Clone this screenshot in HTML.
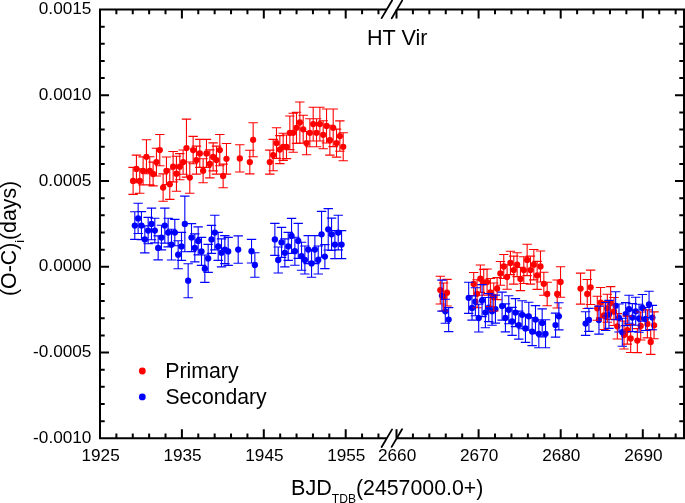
<!DOCTYPE html><html><head><meta charset="utf-8"><style>
html,body{margin:0;padding:0;background:#fff;width:685px;height:503px;overflow:hidden}
svg{display:block;will-change:transform}text{font-family:"Liberation Sans",sans-serif;fill:#000}
</style></head><body>
<svg width="685" height="503" viewBox="0 0 685 503">
<rect width="685" height="503" fill="#fff"/>
<g fill="#ff0000">
<circle cx="133.10" cy="180.90" r="3.15"/>
<circle cx="136.44" cy="168.90" r="3.15"/>
<circle cx="139.77" cy="181.00" r="3.15"/>
<circle cx="143.10" cy="170.90" r="3.15"/>
<circle cx="146.44" cy="156.80" r="3.15"/>
<circle cx="149.78" cy="170.80" r="3.15"/>
<circle cx="153.11" cy="174.00" r="3.15"/>
<circle cx="156.44" cy="162.10" r="3.15"/>
<circle cx="159.78" cy="150.10" r="3.15"/>
<circle cx="163.12" cy="187.60" r="3.15"/>
<circle cx="166.45" cy="170.80" r="3.15"/>
<circle cx="169.78" cy="184.20" r="3.15"/>
<circle cx="173.12" cy="166.70" r="3.15"/>
<circle cx="176.45" cy="173.70" r="3.15"/>
<circle cx="179.79" cy="166.70" r="3.15"/>
<circle cx="183.12" cy="162.10" r="3.15"/>
<circle cx="186.46" cy="148.10" r="3.15"/>
<circle cx="189.79" cy="177.60" r="3.15"/>
<circle cx="193.13" cy="150.10" r="3.15"/>
<circle cx="196.47" cy="160.10" r="3.15"/>
<circle cx="199.80" cy="153.40" r="3.15"/>
<circle cx="203.13" cy="170.80" r="3.15"/>
<circle cx="206.47" cy="153.40" r="3.15"/>
<circle cx="209.81" cy="163.90" r="3.15"/>
<circle cx="213.14" cy="156.90" r="3.15"/>
<circle cx="216.47" cy="160.10" r="3.15"/>
<circle cx="219.81" cy="150.10" r="3.15"/>
<circle cx="223.14" cy="175.90" r="3.15"/>
<circle cx="226.48" cy="158.80" r="3.15"/>
<circle cx="239.82" cy="158.40" r="3.15"/>
<circle cx="249.82" cy="162.10" r="3.15"/>
<circle cx="253.16" cy="139.80" r="3.15"/>
<circle cx="269.83" cy="162.10" r="3.15"/>
<circle cx="273.17" cy="155.10" r="3.15"/>
<circle cx="276.50" cy="143.10" r="3.15"/>
<circle cx="279.84" cy="149.60" r="3.15"/>
<circle cx="283.17" cy="146.80" r="3.15"/>
<circle cx="286.51" cy="146.80" r="3.15"/>
<circle cx="289.85" cy="132.80" r="3.15"/>
<circle cx="293.18" cy="132.80" r="3.15"/>
<circle cx="296.51" cy="127.80" r="3.15"/>
<circle cx="299.85" cy="122.50" r="3.15"/>
<circle cx="303.19" cy="129.30" r="3.15"/>
<circle cx="306.52" cy="143.10" r="3.15"/>
<circle cx="309.86" cy="132.80" r="3.15"/>
<circle cx="313.19" cy="124.10" r="3.15"/>
<circle cx="316.52" cy="132.80" r="3.15"/>
<circle cx="319.86" cy="124.10" r="3.15"/>
<circle cx="323.19" cy="134.80" r="3.15"/>
<circle cx="326.53" cy="126.00" r="3.15"/>
<circle cx="329.87" cy="140.20" r="3.15"/>
<circle cx="333.20" cy="127.80" r="3.15"/>
<circle cx="336.53" cy="143.10" r="3.15"/>
<circle cx="339.87" cy="136.10" r="3.15"/>
<circle cx="343.20" cy="146.80" r="3.15"/>
<circle cx="440.30" cy="290.10" r="3.15"/>
<circle cx="443.64" cy="297.00" r="3.15"/>
<circle cx="446.98" cy="292.70" r="3.15"/>
<circle cx="473.70" cy="284.00" r="3.15"/>
<circle cx="477.04" cy="293.80" r="3.15"/>
<circle cx="480.38" cy="278.70" r="3.15"/>
<circle cx="483.72" cy="282.30" r="3.15"/>
<circle cx="487.06" cy="282.10" r="3.15"/>
<circle cx="490.40" cy="292.50" r="3.15"/>
<circle cx="493.74" cy="297.00" r="3.15"/>
<circle cx="497.08" cy="288.60" r="3.15"/>
<circle cx="500.42" cy="273.40" r="3.15"/>
<circle cx="503.76" cy="266.50" r="3.15"/>
<circle cx="507.10" cy="277.00" r="3.15"/>
<circle cx="510.44" cy="262.90" r="3.15"/>
<circle cx="513.78" cy="270.10" r="3.15"/>
<circle cx="517.12" cy="264.70" r="3.15"/>
<circle cx="520.46" cy="279.00" r="3.15"/>
<circle cx="523.80" cy="270.10" r="3.15"/>
<circle cx="527.14" cy="259.90" r="3.15"/>
<circle cx="530.48" cy="270.10" r="3.15"/>
<circle cx="533.82" cy="264.70" r="3.15"/>
<circle cx="537.16" cy="275.40" r="3.15"/>
<circle cx="540.50" cy="266.50" r="3.15"/>
<circle cx="543.84" cy="283.80" r="3.15"/>
<circle cx="547.18" cy="294.00" r="3.15"/>
<circle cx="557.20" cy="294.00" r="3.15"/>
<circle cx="560.54" cy="282.00" r="3.15"/>
<circle cx="580.58" cy="288.60" r="3.15"/>
<circle cx="587.26" cy="294.00" r="3.15"/>
<circle cx="590.60" cy="287.30" r="3.15"/>
<circle cx="597.28" cy="308.30" r="3.15"/>
<circle cx="600.62" cy="302.60" r="3.15"/>
<circle cx="603.96" cy="315.50" r="3.15"/>
<circle cx="607.30" cy="308.30" r="3.15"/>
<circle cx="610.64" cy="303.00" r="3.15"/>
<circle cx="613.98" cy="311.50" r="3.15"/>
<circle cx="617.32" cy="326.30" r="3.15"/>
<circle cx="624.00" cy="335.00" r="3.15"/>
<circle cx="627.34" cy="330.10" r="3.15"/>
<circle cx="630.68" cy="338.50" r="3.15"/>
<circle cx="637.36" cy="340.60" r="3.15"/>
<circle cx="640.70" cy="326.00" r="3.15"/>
<circle cx="647.38" cy="323.90" r="3.15"/>
<circle cx="650.72" cy="342.00" r="3.15"/>
<circle cx="654.06" cy="325.30" r="3.15"/>
</g>
<g fill="#0000ff">
<circle cx="134.80" cy="225.60" r="3.15"/>
<circle cx="138.14" cy="218.40" r="3.15"/>
<circle cx="141.47" cy="225.60" r="3.15"/>
<circle cx="144.81" cy="239.40" r="3.15"/>
<circle cx="148.14" cy="230.60" r="3.15"/>
<circle cx="151.48" cy="223.90" r="3.15"/>
<circle cx="154.81" cy="230.60" r="3.15"/>
<circle cx="158.15" cy="247.90" r="3.15"/>
<circle cx="161.48" cy="237.60" r="3.15"/>
<circle cx="164.81" cy="225.60" r="3.15"/>
<circle cx="168.15" cy="232.60" r="3.15"/>
<circle cx="171.49" cy="244.60" r="3.15"/>
<circle cx="174.82" cy="232.60" r="3.15"/>
<circle cx="178.16" cy="254.70" r="3.15"/>
<circle cx="181.49" cy="246.40" r="3.15"/>
<circle cx="184.83" cy="223.90" r="3.15"/>
<circle cx="188.16" cy="280.70" r="3.15"/>
<circle cx="191.50" cy="237.60" r="3.15"/>
<circle cx="194.83" cy="247.90" r="3.15"/>
<circle cx="198.17" cy="240.90" r="3.15"/>
<circle cx="201.50" cy="251.40" r="3.15"/>
<circle cx="204.84" cy="268.70" r="3.15"/>
<circle cx="208.17" cy="258.40" r="3.15"/>
<circle cx="211.50" cy="239.40" r="3.15"/>
<circle cx="214.84" cy="232.60" r="3.15"/>
<circle cx="218.18" cy="246.40" r="3.15"/>
<circle cx="221.51" cy="252.90" r="3.15"/>
<circle cx="224.85" cy="249.60" r="3.15"/>
<circle cx="228.18" cy="251.40" r="3.15"/>
<circle cx="238.19" cy="249.60" r="3.15"/>
<circle cx="251.53" cy="251.20" r="3.15"/>
<circle cx="254.86" cy="265.00" r="3.15"/>
<circle cx="274.87" cy="239.40" r="3.15"/>
<circle cx="278.21" cy="260.00" r="3.15"/>
<circle cx="281.54" cy="242.40" r="3.15"/>
<circle cx="284.88" cy="252.90" r="3.15"/>
<circle cx="288.21" cy="246.40" r="3.15"/>
<circle cx="291.55" cy="235.90" r="3.15"/>
<circle cx="294.88" cy="251.20" r="3.15"/>
<circle cx="298.22" cy="240.90" r="3.15"/>
<circle cx="301.55" cy="256.20" r="3.15"/>
<circle cx="304.88" cy="260.00" r="3.15"/>
<circle cx="308.22" cy="249.60" r="3.15"/>
<circle cx="311.56" cy="263.40" r="3.15"/>
<circle cx="314.89" cy="249.60" r="3.15"/>
<circle cx="318.23" cy="260.00" r="3.15"/>
<circle cx="321.56" cy="234.30" r="3.15"/>
<circle cx="324.89" cy="256.60" r="3.15"/>
<circle cx="328.23" cy="229.30" r="3.15"/>
<circle cx="331.56" cy="234.30" r="3.15"/>
<circle cx="334.90" cy="244.60" r="3.15"/>
<circle cx="338.24" cy="232.60" r="3.15"/>
<circle cx="341.57" cy="244.60" r="3.15"/>
<circle cx="441.97" cy="295.60" r="3.15"/>
<circle cx="445.31" cy="311.30" r="3.15"/>
<circle cx="448.65" cy="319.60" r="3.15"/>
<circle cx="468.69" cy="297.80" r="3.15"/>
<circle cx="472.03" cy="308.00" r="3.15"/>
<circle cx="475.37" cy="301.70" r="3.15"/>
<circle cx="478.71" cy="318.10" r="3.15"/>
<circle cx="482.05" cy="300.60" r="3.15"/>
<circle cx="485.39" cy="312.60" r="3.15"/>
<circle cx="488.73" cy="307.60" r="3.15"/>
<circle cx="492.07" cy="311.30" r="3.15"/>
<circle cx="495.41" cy="309.10" r="3.15"/>
<circle cx="502.09" cy="306.10" r="3.15"/>
<circle cx="505.43" cy="317.90" r="3.15"/>
<circle cx="508.77" cy="309.80" r="3.15"/>
<circle cx="512.11" cy="321.40" r="3.15"/>
<circle cx="515.45" cy="312.60" r="3.15"/>
<circle cx="518.79" cy="325.10" r="3.15"/>
<circle cx="522.13" cy="314.80" r="3.15"/>
<circle cx="525.47" cy="328.40" r="3.15"/>
<circle cx="528.81" cy="316.30" r="3.15"/>
<circle cx="532.15" cy="331.60" r="3.15"/>
<circle cx="535.49" cy="319.60" r="3.15"/>
<circle cx="538.83" cy="333.80" r="3.15"/>
<circle cx="542.17" cy="322.90" r="3.15"/>
<circle cx="545.51" cy="333.80" r="3.15"/>
<circle cx="555.53" cy="325.10" r="3.15"/>
<circle cx="558.87" cy="316.30" r="3.15"/>
<circle cx="585.59" cy="323.60" r="3.15"/>
<circle cx="588.93" cy="319.90" r="3.15"/>
<circle cx="598.95" cy="320.10" r="3.15"/>
<circle cx="605.63" cy="316.50" r="3.15"/>
<circle cx="608.97" cy="314.40" r="3.15"/>
<circle cx="615.65" cy="305.80" r="3.15"/>
<circle cx="618.99" cy="318.00" r="3.15"/>
<circle cx="622.33" cy="332.20" r="3.15"/>
<circle cx="625.67" cy="314.10" r="3.15"/>
<circle cx="629.01" cy="309.20" r="3.15"/>
<circle cx="632.35" cy="317.60" r="3.15"/>
<circle cx="635.69" cy="311.30" r="3.15"/>
<circle cx="639.03" cy="318.30" r="3.15"/>
<circle cx="642.37" cy="307.90" r="3.15"/>
<circle cx="645.71" cy="319.00" r="3.15"/>
<circle cx="649.05" cy="304.40" r="3.15"/>
<circle cx="652.39" cy="317.60" r="3.15"/>
</g>
<g stroke="#ff0000" stroke-width="1.1" fill="none">
<path d="M133.10 167.40V194.40M128.40 167.40H137.80M128.40 194.40H137.80M136.44 155.10V182.70M131.74 155.10H141.13M131.74 182.70H141.13M139.77 168.70V193.30M135.07 168.70H144.47M135.07 193.30H144.47M143.10 156.90V184.90M138.41 156.90H147.80M138.41 184.90H147.80M146.44 139.80V173.80M141.74 139.80H151.14M141.74 173.80H151.14M149.78 156.80V184.80M145.08 156.80H154.47M145.08 184.80H154.47M153.11 162.10V185.90M148.41 162.10H157.81M148.41 185.90H157.81M156.44 148.20V176.00M151.75 148.20H161.14M151.75 176.00H161.14M159.78 134.50V165.70M155.08 134.50H164.48M155.08 165.70H164.48M163.12 173.90V201.30M158.42 173.90H167.81M158.42 201.30H167.81M166.45 157.00V184.60M161.75 157.00H171.15M161.75 184.60H171.15M169.78 169.00V199.40M165.09 169.00H174.48M165.09 199.40H174.48M173.12 151.50V181.90M168.42 151.50H177.82M168.42 181.90H177.82M176.45 156.20V191.20M171.75 156.20H181.15M171.75 191.20H181.15M179.79 153.60V179.80M175.09 153.60H184.49M175.09 179.80H184.49M183.12 150.00V174.20M178.43 150.00H187.82M178.43 174.20H187.82M186.46 119.10V177.10M181.76 119.10H191.16M181.76 177.10H191.16M189.79 162.00V193.20M185.09 162.00H194.49M185.09 193.20H194.49M193.13 136.40V163.80M188.43 136.40H197.83M188.43 163.80H197.83M196.47 146.10V174.10M191.77 146.10H201.16M191.77 174.10H201.16M199.80 139.40V167.40M195.10 139.40H204.50M195.10 167.40H204.50M203.13 158.80V182.80M198.44 158.80H207.83M198.44 182.80H207.83M206.47 139.40V167.40M201.77 139.40H211.17M201.77 167.40H211.17M209.81 149.90V177.90M205.11 149.90H214.50M205.11 177.90H214.50M213.14 142.90V170.90M208.44 142.90H217.84M208.44 170.90H217.84M216.47 146.10V174.10M211.78 146.10H221.17M211.78 174.10H221.17M219.81 134.50V165.70M215.11 134.50H224.51M215.11 165.70H224.51M223.14 164.10V187.70M218.44 164.10H227.84M218.44 187.70H227.84M226.48 143.50V174.10M221.78 143.50H231.18M221.78 174.10H231.18M239.82 144.80V172.00M235.12 144.80H244.52M235.12 172.00H244.52M249.82 150.30V173.90M245.12 150.30H254.52M245.12 173.90H254.52M253.16 122.80V156.80M248.46 122.80H257.86M248.46 156.80H257.86M269.83 150.10V174.10M265.13 150.10H274.53M265.13 174.10H274.53M273.17 139.40V170.80M268.47 139.40H277.87M268.47 170.80H277.87M276.50 127.80V158.40M271.81 127.80H281.20M271.81 158.40H281.20M279.84 135.60V163.60M275.14 135.60H284.54M275.14 163.60H284.54M283.17 133.20V160.40M278.47 133.20H287.87M278.47 160.40H287.87M286.51 135.00V158.60M281.81 135.00H291.21M281.81 158.60H291.21M289.85 116.00V149.60M285.15 116.00H294.55M285.15 149.60H294.55M293.18 113.30V152.30M288.48 113.30H297.88M288.48 152.30H297.88M296.51 112.20V143.40M291.81 112.20H301.21M291.81 143.40H301.21M299.85 102.00V143.00M295.15 102.00H304.55M295.15 143.00H304.55M303.19 115.30V143.30M298.49 115.30H307.88M298.49 143.30H307.88M306.52 131.50V154.70M301.82 131.50H311.22M301.82 154.70H311.22M309.86 118.80V146.80M305.16 118.80H314.56M305.16 146.80H314.56M313.19 107.20V141.00M308.49 107.20H317.89M308.49 141.00H317.89M316.52 118.80V146.80M311.82 118.80H321.22M311.82 146.80H321.22M319.86 107.20V141.00M315.16 107.20H324.56M315.16 141.00H324.56M323.19 120.80V148.80M318.50 120.80H327.89M318.50 148.80H327.89M326.53 109.00V143.00M321.83 109.00H331.23M321.83 143.00H331.23M329.87 125.30V155.10M325.17 125.30H334.56M325.17 155.10H334.56M333.20 109.00V146.60M328.50 109.00H337.90M328.50 146.60H337.90M336.53 129.10V157.10M331.83 129.10H341.23M331.83 157.10H341.23M339.87 120.90V151.30M335.17 120.90H344.57M335.17 151.30H344.57M343.20 132.80V160.80M338.50 132.80H347.90M338.50 160.80H347.90M440.30 276.20V304.00M435.60 276.20H445.00M435.60 304.00H445.00M443.64 283.00V311.00M438.94 283.00H448.34M438.94 311.00H448.34M446.98 279.40V306.00M442.28 279.40H451.68M442.28 306.00H451.68M473.70 272.50V295.50M469.00 272.50H478.40M469.00 295.50H478.40M477.04 279.80V307.80M472.34 279.80H481.74M472.34 307.80H481.74M480.38 265.00V292.40M475.68 265.00H485.08M475.68 292.40H485.08M483.72 269.40V295.20M479.02 269.40H488.42M479.02 295.20H488.42M487.06 269.00V295.20M482.36 269.00H491.76M482.36 295.20H491.76M490.40 278.50V306.50M485.70 278.50H495.10M485.70 306.50H495.10M493.74 283.00V311.00M489.04 283.00H498.44M489.04 311.00H498.44M497.08 277.60V299.60M492.38 277.60H501.78M492.38 299.60H501.78M500.42 261.50V285.30M495.72 261.50H505.12M495.72 285.30H505.12M503.76 254.50V278.50M499.06 254.50H508.46M499.06 278.50H508.46M507.10 264.80V289.20M502.40 264.80H511.80M502.40 289.20H511.80M510.44 251.20V274.60M505.74 251.20H515.14M505.74 274.60H515.14M513.78 256.10V284.10M509.08 256.10H518.48M509.08 284.10H518.48M517.12 252.80V276.60M512.42 252.80H521.82M512.42 276.60H521.82M520.46 267.40V290.60M515.76 267.40H525.16M515.76 290.60H525.16M523.80 256.70V283.50M519.10 256.70H528.50M519.10 283.50H528.50M527.14 244.20V275.60M522.44 244.20H531.84M522.44 275.60H531.84M530.48 256.10V284.10M525.78 256.10H535.18M525.78 284.10H535.18M533.82 249.50V279.90M529.12 249.50H538.52M529.12 279.90H538.52M537.16 261.40V289.40M532.46 261.40H541.86M532.46 289.40H541.86M540.50 251.00V282.00M535.80 251.00H545.20M535.80 282.00H545.20M543.84 272.30V295.30M539.14 272.30H548.54M539.14 295.30H548.54M547.18 282.20V305.80M542.48 282.20H551.88M542.48 305.80H551.88M557.20 280.00V308.00M552.50 280.00H561.90M552.50 308.00H561.90M560.54 266.70V297.30M555.84 266.70H565.24M555.84 297.30H565.24M580.58 273.10V304.10M575.88 273.10H585.28M575.88 304.10H585.28M587.26 279.50V308.50M582.56 279.50H591.96M582.56 308.50H591.96M590.60 270.10V304.50M585.90 270.10H595.30M585.90 304.50H595.30M597.28 296.30V320.30M592.58 296.30H601.98M592.58 320.30H601.98M600.62 287.50V317.70M595.92 287.50H605.32M595.92 317.70H605.32M603.96 301.50V329.50M599.26 301.50H608.66M599.26 329.50H608.66M607.30 294.30V322.30M602.60 294.30H612.00M602.60 322.30H612.00M610.64 286.60V319.40M605.94 286.60H615.34M605.94 319.40H615.34M613.98 297.50V325.50M609.28 297.50H618.68M609.28 325.50H618.68M617.32 313.60V339.00M612.62 313.60H622.02M612.62 339.00H622.02M624.00 321.00V349.00M619.30 321.00H628.70M619.30 349.00H628.70M627.34 316.10V344.10M622.64 316.10H632.04M622.64 344.10H632.04M630.68 324.50V352.50M625.98 324.50H635.38M625.98 352.50H635.38M637.36 328.60V352.60M632.66 328.60H642.06M632.66 352.60H642.06M640.70 312.00V340.00M636.00 312.00H645.40M636.00 340.00H645.40M647.38 309.90V337.90M642.68 309.90H652.08M642.68 337.90H652.08M650.72 329.60V354.40M646.02 329.60H655.42M646.02 354.40H655.42M654.06 311.90V338.70M649.36 311.90H658.76M649.36 338.70H658.76"/>
</g>
<g stroke="#0000ff" stroke-width="1.1" fill="none">
<path d="M134.80 211.80V239.40M130.10 211.80H139.50M130.10 239.40H139.50M138.14 203.30V233.50M133.44 203.30H142.84M133.44 233.50H142.84M141.47 211.60V239.60M136.77 211.60H146.17M136.77 239.60H146.17M144.81 225.90V252.90M140.11 225.90H149.50M140.11 252.90H149.50M148.14 217.40V243.80M143.44 217.40H152.84M143.44 243.80H152.84M151.48 208.10V239.70M146.78 208.10H156.18M146.78 239.70H156.18M154.81 218.30V242.90M150.11 218.30H159.51M150.11 242.90H159.51M158.15 235.90V259.90M153.45 235.90H162.84M153.45 259.90H162.84M161.48 225.30V249.90M156.78 225.30H166.18M156.78 249.90H166.18M164.81 208.10V243.10M160.12 208.10H169.51M160.12 243.10H169.51M168.15 218.30V246.90M163.45 218.30H172.85M163.45 246.90H172.85M171.49 229.20V260.00M166.79 229.20H176.19M166.79 260.00H176.19M174.82 219.40V245.80M170.12 219.40H179.52M170.12 245.80H179.52M178.16 240.70V268.70M173.46 240.70H182.85M173.46 268.70H182.85M181.49 232.40V260.40M176.79 232.40H186.19M176.79 260.40H186.19M184.83 196.10V251.70M180.13 196.10H189.53M180.13 251.70H189.53M188.16 263.70V297.70M183.46 263.70H192.86M183.46 297.70H192.86M191.50 223.60V251.60M186.80 223.60H196.19M186.80 251.60H196.19M194.83 233.90V261.90M190.13 233.90H199.53M190.13 261.90H199.53M198.17 226.90V254.90M193.47 226.90H202.87M193.47 254.90H202.87M201.50 237.40V265.40M196.80 237.40H206.20M196.80 265.40H206.20M204.84 255.00V282.40M200.14 255.00H209.53M200.14 282.40H209.53M208.17 244.40V272.40M203.47 244.40H212.87M203.47 272.40H212.87M211.50 225.40V253.40M206.81 225.40H216.20M206.81 253.40H216.20M214.84 215.30V249.90M210.14 215.30H219.54M210.14 249.90H219.54M218.18 232.40V260.40M213.48 232.40H222.88M213.48 260.40H222.88M221.51 238.90V266.90M216.81 238.90H226.21M216.81 266.90H226.21M224.85 235.60V263.60M220.15 235.60H229.55M220.15 263.60H229.55M228.18 237.40V265.40M223.48 237.40H232.88M223.48 265.40H232.88M238.19 235.90V263.30M233.49 235.90H242.88M233.49 263.30H242.88M251.53 239.40V263.00M246.83 239.40H256.23M246.83 263.00H256.23M254.86 252.80V277.20M250.16 252.80H259.56M250.16 277.20H259.56M274.87 223.40V255.40M270.17 223.40H279.57M270.17 255.40H279.57M278.21 247.00V273.00M273.51 247.00H282.91M273.51 273.00H282.91M281.54 227.40V257.40M276.84 227.40H286.24M276.84 257.40H286.24M284.88 238.90V266.90M280.18 238.90H289.57M280.18 266.90H289.57M288.21 232.40V260.40M283.51 232.40H292.91M283.51 260.40H292.91M291.55 218.40V253.40M286.85 218.40H296.25M286.85 253.40H296.25M294.88 237.20V265.20M290.18 237.20H299.58M290.18 265.20H299.58M298.22 223.40V258.40M293.52 223.40H302.92M293.52 258.40H302.92M301.55 242.20V270.20M296.85 242.20H306.25M296.85 270.20H306.25M304.88 246.00V274.00M300.19 246.00H309.58M300.19 274.00H309.58M308.22 235.60V263.60M303.52 235.60H312.92M303.52 263.60H312.92M311.56 249.60V277.20M306.86 249.60H316.25M306.86 277.20H316.25M314.89 235.60V263.60M310.19 235.60H319.59M310.19 263.60H319.59M318.23 246.00V274.00M313.53 246.00H322.93M313.53 274.00H322.93M321.56 211.40V257.20M316.86 211.40H326.26M316.86 257.20H326.26M324.89 244.60V268.60M320.19 244.60H329.59M320.19 268.60H329.59M328.23 208.60V250.00M323.53 208.60H332.93M323.53 250.00H332.93M331.56 218.10V250.50M326.87 218.10H336.26M326.87 250.50H336.26M334.90 230.60V258.60M330.20 230.60H339.60M330.20 258.60H339.60M338.24 215.30V249.90M333.54 215.30H342.94M333.54 249.90H342.94M341.57 230.60V258.60M336.87 230.60H346.27M336.87 258.60H346.27M441.97 280.10V311.10M437.27 280.10H446.67M437.27 311.10H446.67M445.31 299.30V323.30M440.61 299.30H450.01M440.61 323.30H450.01M448.65 307.60V331.60M443.95 307.60H453.35M443.95 331.60H453.35M468.69 282.20V313.40M463.99 282.20H473.39M463.99 313.40H473.39M472.03 295.90V320.10M467.33 295.90H476.73M467.33 320.10H476.73M475.37 287.70V315.70M470.67 287.70H480.07M470.67 315.70H480.07M478.71 304.20V332.00M474.01 304.20H483.41M474.01 332.00H483.41M482.05 284.60V316.60M477.35 284.60H486.75M477.35 316.60H486.75M485.39 297.50V327.70M480.69 297.50H490.09M480.69 327.70H490.09M488.73 293.60V321.60M484.03 293.60H493.43M484.03 321.60H493.43M492.07 297.30V325.30M487.37 297.30H496.77M487.37 325.30H496.77M495.41 295.10V323.10M490.71 295.10H500.11M490.71 323.10H500.11M502.09 292.10V320.10M497.39 292.10H506.79M497.39 320.10H506.79M505.43 303.90V331.90M500.73 303.90H510.13M500.73 331.90H510.13M508.77 295.80V323.80M504.07 295.80H513.47M504.07 323.80H513.47M512.11 307.40V335.40M507.41 307.40H516.81M507.41 335.40H516.81M515.45 298.60V326.60M510.75 298.60H520.15M510.75 326.60H520.15M518.79 311.10V339.10M514.09 311.10H523.49M514.09 339.10H523.49M522.13 300.80V328.80M517.43 300.80H526.83M517.43 328.80H526.83M525.47 314.40V342.40M520.77 314.40H530.17M520.77 342.40H530.17M528.81 302.30V330.30M524.11 302.30H533.51M524.11 330.30H533.51M532.15 317.60V345.60M527.45 317.60H536.85M527.45 345.60H536.85M535.49 305.60V333.60M530.79 305.60H540.19M530.79 333.60H540.19M538.83 319.80V347.80M534.13 319.80H543.53M534.13 347.80H543.53M542.17 308.90V336.90M537.47 308.90H546.87M537.47 336.90H546.87M545.51 319.80V347.80M540.81 319.80H550.21M540.81 347.80H550.21M555.53 313.10V337.10M550.83 313.10H560.23M550.83 337.10H560.23M558.87 302.70V329.90M554.17 302.70H563.57M554.17 329.90H563.57M585.59 311.80V335.40M580.89 311.80H590.29M580.89 335.40H590.29M588.93 308.40V331.40M584.23 308.40H593.63M584.23 331.40H593.63M598.95 306.10V334.10M594.25 306.10H603.65M594.25 334.10H603.65M605.63 302.50V330.50M600.93 302.50H610.33M600.93 330.50H610.33M608.97 300.40V328.40M604.27 300.40H613.67M604.27 328.40H613.67M615.65 291.80V319.80M610.95 291.80H620.35M610.95 319.80H620.35M618.99 304.00V332.00M614.29 304.00H623.69M614.29 332.00H623.69M622.33 318.20V346.20M617.63 318.20H627.03M617.63 346.20H627.03M625.67 302.60V325.60M620.97 302.60H630.37M620.97 325.60H630.37M629.01 295.20V323.20M624.31 295.20H633.71M624.31 323.20H633.71M632.35 303.60V331.60M627.65 303.60H637.05M627.65 331.60H637.05M635.69 297.30V325.30M630.99 297.30H640.39M630.99 325.30H640.39M639.03 304.30V332.30M634.33 304.30H643.73M634.33 332.30H643.73M642.37 294.50V321.30M637.67 294.50H647.07M637.67 321.30H647.07M645.71 307.50V330.50M641.01 307.50H650.41M641.01 330.50H650.41M649.05 291.20V317.60M644.35 291.20H653.75M644.35 317.60H653.75M652.39 305.40V329.80M647.69 305.40H657.09M647.69 329.80H657.09"/>
</g>
<path d="M100.00 8.50V439.30M684.00 8.50V439.30M100.00 9.50H386.90M396.90 9.50H684.00M100.00 438.30H386.90M396.90 438.30H684.00M100.00 421.18H104.70M684.00 421.18H679.30M100.00 404.03H104.70M684.00 404.03H679.30M100.00 386.87H104.70M684.00 386.87H679.30M100.00 369.72H104.70M684.00 369.72H679.30M100.00 352.57H109.00M684.00 352.57H675.00M100.00 335.41H104.70M684.00 335.41H679.30M100.00 318.26H104.70M684.00 318.26H679.30M100.00 301.11H104.70M684.00 301.11H679.30M100.00 283.95H104.70M684.00 283.95H679.30M100.00 266.80H109.00M684.00 266.80H675.00M100.00 249.65H104.70M684.00 249.65H679.30M100.00 232.49H104.70M684.00 232.49H679.30M100.00 215.34H104.70M684.00 215.34H679.30M100.00 198.19H104.70M684.00 198.19H679.30M100.00 181.03H109.00M684.00 181.03H675.00M100.00 163.88H104.70M684.00 163.88H679.30M100.00 146.73H104.70M684.00 146.73H679.30M100.00 129.57H104.70M684.00 129.57H679.30M100.00 112.42H104.70M684.00 112.42H679.30M100.00 95.27H109.00M684.00 95.27H675.00M100.00 78.11H104.70M684.00 78.11H679.30M100.00 60.96H104.70M684.00 60.96H679.30M100.00 43.81H104.70M684.00 43.81H679.30M100.00 26.65H104.70M684.00 26.65H679.30M116.38 438.30V433.60M116.38 9.50V14.20M132.76 438.30V433.60M132.76 9.50V14.20M149.14 438.30V433.60M149.14 9.50V14.20M165.52 438.30V433.60M165.52 9.50V14.20M181.90 438.30V429.30M181.90 9.50V18.50M198.28 438.30V433.60M198.28 9.50V14.20M214.66 438.30V433.60M214.66 9.50V14.20M231.04 438.30V433.60M231.04 9.50V14.20M247.42 438.30V433.60M247.42 9.50V14.20M263.80 438.30V429.30M263.80 9.50V18.50M280.18 438.30V433.60M280.18 9.50V14.20M296.56 438.30V433.60M296.56 9.50V14.20M312.94 438.30V433.60M312.94 9.50V14.20M329.32 438.30V433.60M329.32 9.50V14.20M345.70 438.30V429.30M345.70 9.50V18.50M362.08 438.30V433.60M362.08 9.50V14.20M378.46 438.30V433.60M378.46 9.50V14.20M396.50 438.30V429.30M396.50 9.50V18.50M412.92 438.30V433.60M412.92 9.50V14.20M429.34 438.30V433.60M429.34 9.50V14.20M445.76 438.30V433.60M445.76 9.50V14.20M462.18 438.30V433.60M462.18 9.50V14.20M478.60 438.30V429.30M478.60 9.50V18.50M495.02 438.30V433.60M495.02 9.50V14.20M511.44 438.30V433.60M511.44 9.50V14.20M527.86 438.30V433.60M527.86 9.50V14.20M544.28 438.30V433.60M544.28 9.50V14.20M560.70 438.30V429.30M560.70 9.50V18.50M577.12 438.30V433.60M577.12 9.50V14.20M593.54 438.30V433.60M593.54 9.50V14.20M609.96 438.30V433.60M609.96 9.50V14.20M626.38 438.30V433.60M626.38 9.50V14.20M642.80 438.30V429.30M642.80 9.50V18.50M659.22 438.30V433.60M659.22 9.50V14.20M675.64 438.30V433.60M675.64 9.50V14.20" stroke="#000" stroke-width="2" fill="none"/>
<path d="M381.65 18.10L392.05 0.50M391.75 18.20L402.15 0.60M381.65 447.00L392.05 429.40M391.65 446.90L402.05 429.30" stroke="#000" stroke-width="1.8" fill="none" stroke-linecap="round"/>
<text x="91.4" y="14.10" font-size="17.2" text-anchor="end">0.0015</text>
<text x="91.4" y="99.87" font-size="17.2" text-anchor="end">0.0010</text>
<text x="91.4" y="185.63" font-size="17.2" text-anchor="end">0.0005</text>
<text x="91.4" y="271.40" font-size="17.2" text-anchor="end">0.0000</text>
<text x="91.4" y="357.17" font-size="17.2" text-anchor="end">-0.0005</text>
<text x="91.4" y="442.93" font-size="17.2" text-anchor="end">-0.0010</text>
<text x="100.60" y="461.4" font-size="17.2" text-anchor="middle">1925</text>
<text x="182.50" y="461.4" font-size="17.2" text-anchor="middle">1935</text>
<text x="264.40" y="461.4" font-size="17.2" text-anchor="middle">1945</text>
<text x="346.30" y="461.4" font-size="17.2" text-anchor="middle">1955</text>
<text x="397.10" y="461.4" font-size="17.2" text-anchor="middle">2660</text>
<text x="479.20" y="461.4" font-size="17.2" text-anchor="middle">2670</text>
<text x="561.30" y="461.4" font-size="17.2" text-anchor="middle">2680</text>
<text x="643.40" y="461.4" font-size="17.2" text-anchor="middle">2690</text>
<text x="367" y="44.7" font-size="21.6">HT Vir</text>
<circle cx="142.3" cy="371" r="3.4" fill="#ff0000"/>
<circle cx="142.3" cy="396.9" r="3.4" fill="#0000ff"/>
<text x="165.2" y="378.3" font-size="21.3">Primary</text>
<text x="165.4" y="403.5" font-size="21.2">Secondary</text>
<text x="291" y="494.5" font-size="21.6">BJD<tspan font-size="12.1" dy="8.5">TDB</tspan><tspan dy="-8.5" font-size="21.3">(2457000.0+)</tspan></text>
<text transform="translate(16,238.4) rotate(-90)" font-size="21.3" text-anchor="middle">(O-C)<tspan font-size="12.4" dy="7.6">i</tspan><tspan dy="-7.6">(days)</tspan></text>
</svg></body></html>
